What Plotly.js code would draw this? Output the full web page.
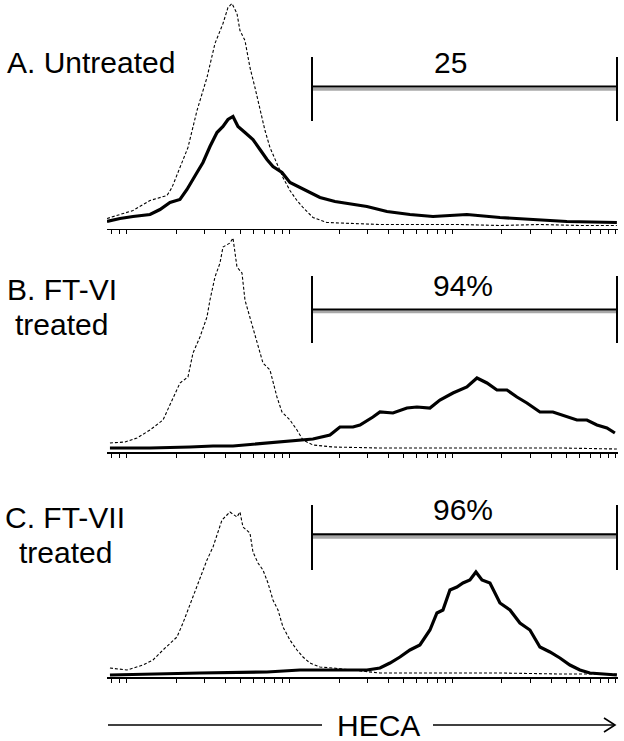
<!DOCTYPE html>
<html>
<head>
<meta charset="utf-8">
<script src="https://cdn.plot.ly/plotly-3.0.1.min.js"></script>
<style>html,body{margin:0;padding:0;background:#fff;}#chart{width:624px;height:741px;}</style>
</head>
<body>
<div id="chart"></div>
<script>
// ---- Data (HECA fluorescence intensity vs. cell counts) ----
const tickPositions = [0.8,0.9,1,2,3,4,5,6,7,8,9,10,20,30,40,50,60,70,80,90,100,200,300,400,500,600,700,800,900,1000];

const panelLabels = [["A. Untreated"], ["B. FT-VI", "treated"], ["C. FT-VII", "treated"]];
const gateLabels = ["25", "94%", "96%"];

// Panel A - untreated
const xA_ctrl = [0.754,1.089,1.384,1.759,1.888,2.114,2.367,2.689,3.096,3.467,3.882,4.165,4.407,4.730,4.934,5.296,5.683,6.099,6.546,7.026,7.540,8.322,9.058,10,11.04,12.02,13.84,16.87,22.37,35.66,62.73,110.4,194.3,341.8,601.4,1014];
const yA_ctrl = [10,18,28,33,41,61,81,118,151,185,205,221,225,215,198,188,161,141,118,98,81,65,51,38,28,21,11,6,5,4,4,4,3,4,3,3];
const xA_heca = [0.754,0.906,1.089,1.384,1.594,1.836,2.114,2.334,2.689,2.926,3.230,3.566,3.882,4.165,4.470,4.798,5.296,5.929,6.546,7.227,7.866,8.931,10,11.52,13.27,15.28,18.89,23.34,29.68,39.37,54.48,75.39,121.8,194.3,309.6,500.4,1014];
const yA_heca = [7,10,12,14,19,26,29,39,56,66,82,96,102,109,112,102,96,89,79,69,62,56,46,41,36,31,27,25,22,17,14,12,14,11,9,7,6];

// Panel B - FT-VI treated
const xB_ctrl = [0.786,0.972,1.152,1.384,1.663,1.836,2.114,2.367,2.541,2.804,3.096,3.230,3.467,3.721,3.882,4.284,4.470,4.730,5.076,5.296,5.683,6.274,6.830,7.540,8.322,8.931,10,11.04,12.02,13.84,18.36,35.66,83.21,194.3,453.4,1014];
const yB_ctrl = [9,10,14,22,32,47,69,75,99,115,135,152,175,189,205,209,214,185,179,152,135,112,89,82,55,40,32,22,12,7,5,4,4,4,4,3];
const xB_heca = [0.786,1.384,2.435,3.371,4.470,6.274,8.322,11.52,13.84,17.60,20.26,24.35,26.89,32.30,35.66,42.85,52.22,60.13,72.26,83.21,100,121.8,140.4,161.7,186.2,214.5,247.0,284.4,341.8,410.8,500.4,576.5,663.9,764.6,880.8,986.0];
const yB_heca = [4,4,5,6,6,8,10,12,13,17,25,25,27,35,40,39,44,45,44,52,59,65,74,69,62,62,55,49,40,40,35,32,32,27,24,19];

// Panel C - FT-VII treated
const xC_ctrl = [0.786,1,1.254,1.444,1.663,1.836,2.026,2.206,2.367,2.541,2.804,3.096,3.371,3.617,3.827,4.107,4.284,4.730,4.934,5.148,5.683,5.929,6.364,6.830,7.330,7.866,8.443,9.058,10,11.04,12.02,13.27,15.28,18.36,35.66,83.21,194.3,453.4,1014];
const yC_ctrl = [9,7,12,17,27,34,40,54,67,80,99,117,130,144,157,162,165,160,165,150,144,125,114,107,94,77,67,50,37,27,20,14,10,9,4,4,4,3,3];
const xC_heca = [0.786,1.384,2.804,7.227,11.52,18.36,29.68,35.66,41.08,47.30,54.48,62.73,72.26,79.76,86.82,95.85,105.8,115.2,127.1,138.4,150.7,168.7,194.3,223.8,257.7,296.8,341.8,393.7,453.4,522.1,601.4,692.6,1014];
const yC_heca = [2,3,4,5,7,7,7,9,14,20,27,32,47,64,67,87,90,94,97,105,97,94,74,67,54,47,30,25,19,12,7,4,2];

// ---- Layout helpers (pixel -> paper) ----
const W = 624, H = 741;
const px = v => v / W;
const py = v => 1 - v / H;

const ctrlLine = {color: '#000', width: 1.1, dash: '3px,2px'};
const hecaLine = {color: '#000', width: 3.2};

const traces = [
  {x: xA_ctrl, y: yA_ctrl, xaxis: 'x', yaxis: 'y', mode: 'lines', line: ctrlLine},
  {x: xA_heca, y: yA_heca, xaxis: 'x', yaxis: 'y', mode: 'lines', line: hecaLine},
  {x: xB_ctrl, y: yB_ctrl, xaxis: 'x2', yaxis: 'y2', mode: 'lines', line: ctrlLine},
  {x: xB_heca, y: yB_heca, xaxis: 'x2', yaxis: 'y2', mode: 'lines', line: hecaLine},
  {x: xC_ctrl, y: yC_ctrl, xaxis: 'x3', yaxis: 'y3', mode: 'lines', line: ctrlLine},
  {x: xC_heca, y: yC_heca, xaxis: 'x3', yaxis: 'y3', mode: 'lines', line: hecaLine}
];

const xDomain = [px(107), px(618)];
const xRange = [Math.log10(0.754), Math.log10(1030)];
function xa(anchor) {
  return {type: 'log', domain: xDomain, range: xRange, anchor: anchor,
    showline: true, linecolor: '#000', linewidth: 1.5, mirror: false,
    ticks: 'outside', ticklen: 4, tickwidth: 1, tickcolor: '#000',
    tickmode: 'array', tickvals: tickPositions, showticklabels: false,
    showgrid: false, zeroline: false, fixedrange: true};
}
function ya(anchor, bottomPx, topPx) {
  return {domain: [py(bottomPx), py(topPx)], range: [0, bottomPx - topPx], anchor: anchor,
    visible: false, showgrid: false, zeroline: false, fixedrange: true};
}

const panels = [
  {base: 228.5, top: 0, labelY: [62], labelX: 5, anchor: 'left', gate: {top: 57, bot: 121, bar: 86.5, grey: 89.2, lab: 62, labX: 450}},
  {base: 452, top: 232, labelY: [290, 324], labelX: 62, anchor: 'center', gate: {top: 276, bot: 343, bar: 309.5, grey: 311.8, lab: 285, labX: 463}},
  {base: 677, top: 457, labelY: [517, 552], labelX: 65, anchor: 'center', gate: {top: 505, bot: 570, bar: 534.3, grey: 537.3, lab: 510, labX: 463}}
];

const shapes = [];
const annotations = [];
const font = {family: 'Liberation Sans, Arial, sans-serif', size: 30, color: '#000'};
panels.forEach((p, i) => {
  const g = p.gate;
  const gx0 = 312, gx1 = 617;
  shapes.push({type: 'line', xref: 'paper', yref: 'paper', x0: px(gx0), x1: px(gx1), y0: py(g.grey), y1: py(g.grey), line: {color: '#a8a8a8', width: 3}});
  shapes.push({type: 'line', xref: 'paper', yref: 'paper', x0: px(gx0), x1: px(gx1), y0: py(g.bar), y1: py(g.bar), line: {color: '#000', width: 2.2}});
  [gx0, gx1].forEach(gx => shapes.push({type: 'line', xref: 'paper', yref: 'paper', x0: px(gx), x1: px(gx), y0: py(g.top), y1: py(g.bot), line: {color: '#000', width: 2}}));
  annotations.push({xref: 'paper', yref: 'paper', x: px(g.labX), y: py(g.lab), text: gateLabels[i], showarrow: false, xanchor: 'center', yanchor: 'middle', font: font});
  panelLabels[i].forEach((t, j) => annotations.push({xref: 'paper', yref: 'paper', x: px(p.labelX), y: py(p.labelY[j]), text: t, showarrow: false, xanchor: p.anchor, yanchor: 'middle', font: font}));
});

// HECA axis arrow
const arrowY = 725;
shapes.push({type: 'line', xref: 'paper', yref: 'paper', x0: px(108), x1: px(322), y0: py(arrowY), y1: py(arrowY), line: {color: '#000', width: 1.6}});
shapes.push({type: 'line', xref: 'paper', yref: 'paper', x0: px(433), x1: px(615), y0: py(arrowY), y1: py(arrowY), line: {color: '#000', width: 1.6}});
shapes.push({type: 'path', xref: 'paper', yref: 'paper', path: `M ${px(604)} ${py(arrowY - 7)} L ${px(615)} ${py(arrowY)} L ${px(604)} ${py(arrowY + 7)}`, line: {color: '#000', width: 1.6}});
annotations.push({xref: 'paper', yref: 'paper', x: px(378.5), y: py(arrowY), text: 'HECA', showarrow: false, xanchor: 'center', yanchor: 'middle', font: font});

const layout = {
  width: W, height: H, margin: {l: 0, r: 0, t: 0, b: 0},
  paper_bgcolor: '#fff', plot_bgcolor: 'rgba(0,0,0,0)', showlegend: false,
  xaxis: xa('y'), xaxis2: xa('y2'), xaxis3: xa('y3'),
  yaxis: ya('x', panels[0].base, panels[0].top),
  yaxis2: ya('x2', panels[1].base, panels[1].top),
  yaxis3: ya('x3', panels[2].base, panels[2].top),
  shapes: shapes, annotations: annotations
};

Plotly.newPlot('chart', traces, layout, {displayModeBar: false, staticPlot: true});
</script>
</body>
</html>
